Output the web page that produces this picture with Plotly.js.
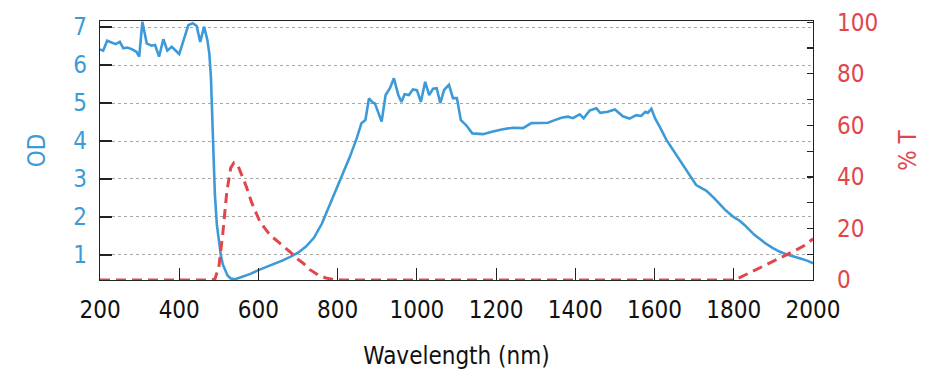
<!DOCTYPE html>
<html>
<head>
<meta charset="utf-8">
<script src="https://cdn.plot.ly/plotly-3.0.1.min.js"></script>
<style>html,body{margin:0;padding:0;background:#fff;}#chart{width:938px;height:380px;}</style>
</head>
<body>
<div id="chart"></div>
<script>
// Wavelength (nm) for the OD curve
var odWavelength = [200,208,218,229,240,250,259,269,280,292,299,307,318,330,339,349,360,370,381,400,
  415,423,434,444,453,463,471,476,480,485,490,495,500,505,510,516,522,530,540,550,565,580,600,620,640,660,680,700,
  720,740,760,780,797,814,831,848,860,870,879,889,894,911,921,932,942,953,961,969,980,990,1000,1010,1021,1031,
  1041,1050,1059,1069,1081,1091,1101,1111,1124,1140,1167,1192,1217,1243,1268,1289,1310,1331,1348,1365,1381,1394,
  1411,1421,1436,1453,1463,1482,1500,1520,1537,1554,1566,1577,1583,1592,1602,1613,1630,1655,1680,1705,1731,1751,
  1777,1798,1815,1827,1852,1882,1899,1915,1932,1950,1966,1985,2000];
// Optical density values
var odValues = [6.41,6.38,6.64,6.60,6.55,6.61,6.44,6.46,6.42,6.35,6.22,7.14,6.57,6.51,6.53,6.22,6.68,6.38,6.48,6.29,
  6.83,7.05,7.10,7.03,6.61,7.01,6.66,6.30,5.69,4.10,2.60,1.80,1.35,1.00,0.75,0.58,0.46,0.38,0.36,0.39,0.44,0.50,0.60,0.68,0.76,0.85,0.95,1.06,
  1.22,1.45,1.82,2.32,2.71,3.15,3.59,4.07,4.47,4.55,5.12,5.01,4.99,4.51,5.21,5.39,5.65,5.21,5.03,5.23,5.21,5.36,5.34,5.03,5.56,5.21,
  5.38,5.39,5.00,5.35,5.48,5.13,5.13,4.55,4.42,4.20,4.18,4.25,4.31,4.35,4.34,4.47,4.48,4.48,4.55,4.61,4.64,4.60,
  4.70,4.60,4.80,4.86,4.74,4.77,4.83,4.65,4.59,4.68,4.66,4.77,4.74,4.85,4.58,4.38,4.03,3.63,3.24,2.84,2.69,2.49,
  2.20,2.01,1.90,1.79,1.53,1.29,1.18,1.09,1.02,0.97,0.91,0.85,0.78];
// Wavelength (nm) for the transmission curve
var tWavelength = [200,480,490,500,510,520,530,538,548,560,570,583,604,629,654,679,700,713,730,750,770,790,810,
  1800,1816,1852,1890,1924,1958,1980,2000];
// Transmission (%)
var tValues = [0,0,0.3,5,18,34,43.5,45.5,44.5,40,36,30,22.5,17.5,14.3,11,8,6.5,4,2,0.8,0.2,0,
  0,1,3.6,6.5,9.1,11.7,13.5,16];
var xTicks = [200,400,600,800,1000,1200,1400,1600,1800,2000];
var odTicks = [1,2,3,4,5,6,7];
var tTicks = [0,20,40,60,80,100];

var BLUE = '#3d9ad8', RED = '#e0474c', AX = '#222222';
var FONT = '"DejaVu Sans Condensed", "Liberation Sans", sans-serif';
var FS = 24;

var traces = [
  {x: odWavelength, y: odValues, type: 'scatter', mode: 'lines', yaxis: 'y',
   line: {color: BLUE, width: 2.6}, hoverinfo: 'x+y', name: 'OD'},
  {x: tWavelength, y: tValues, type: 'scatter', mode: 'lines', yaxis: 'y2', cliponaxis: false,
   line: {color: RED, width: 3, dash: '10px,6px'}, hoverinfo: 'x+y', name: '% T'}
];

var layout = {
  width: 938, height: 380,
  margin: {l: 100, r: 125, t: 21, b: 100, pad: 0},
  paper_bgcolor: '#ffffff', plot_bgcolor: '#ffffff',
  showlegend: false,
  font: {family: FONT, size: FS, color: '#111'},
  xaxis: {
    range: [200, 2000], tickvals: xTicks, ticks: 'inside', ticklen: 12, tickwidth: 1.2, tickcolor: AX,
    showline: true, linecolor: AX, linewidth: 1.3, mirror: true, showgrid: false, zeroline: false,
    tickfont: {family: FONT, size: FS, color: '#111'}, ticklabelstandoff: 8,
    title: {text: 'Wavelength (nm)', font: {family: FONT, size: FS, color: '#111'}, standoff: 24}
  },
  yaxis: {
    range: [0.34, 7.16], tickvals: odTicks, ticks: 'inside', ticklen: 12, tickwidth: 1.2, tickcolor: AX,
    showline: true, linecolor: AX, linewidth: 1.3, showgrid: true, gridcolor: '#a8a8a8', griddash: 'dot', gridwidth: 1,
    zeroline: false, tickfont: {family: FONT, size: FS, color: BLUE}, ticklabelstandoff: 7,
    title: {text: 'OD', font: {family: FONT, size: FS, color: BLUE}, standoff: 20}
  },
  yaxis2: {
    overlaying: 'y', side: 'right', range: [0, 100.5], tickvals: tTicks, ticks: 'inside', ticklen: 6, tickwidth: 1.2,
    tickcolor: AX, showline: true, linecolor: AX, linewidth: 1.3, showgrid: false, zeroline: false,
    minor: {dtick: 10, ticks: 'inside', ticklen: 6, tickwidth: 1.2, tickcolor: AX, showgrid: false},
    tickfont: {family: FONT, size: FS, color: RED}, ticklabelstandoff: 18,
    title: {text: '% T', font: {family: FONT, size: FS, color: RED}, standoff: 22}
  }
};

Plotly.newPlot('chart', traces, layout, {displayModeBar: false, staticPlot: true});
</script>
</body>
</html>
